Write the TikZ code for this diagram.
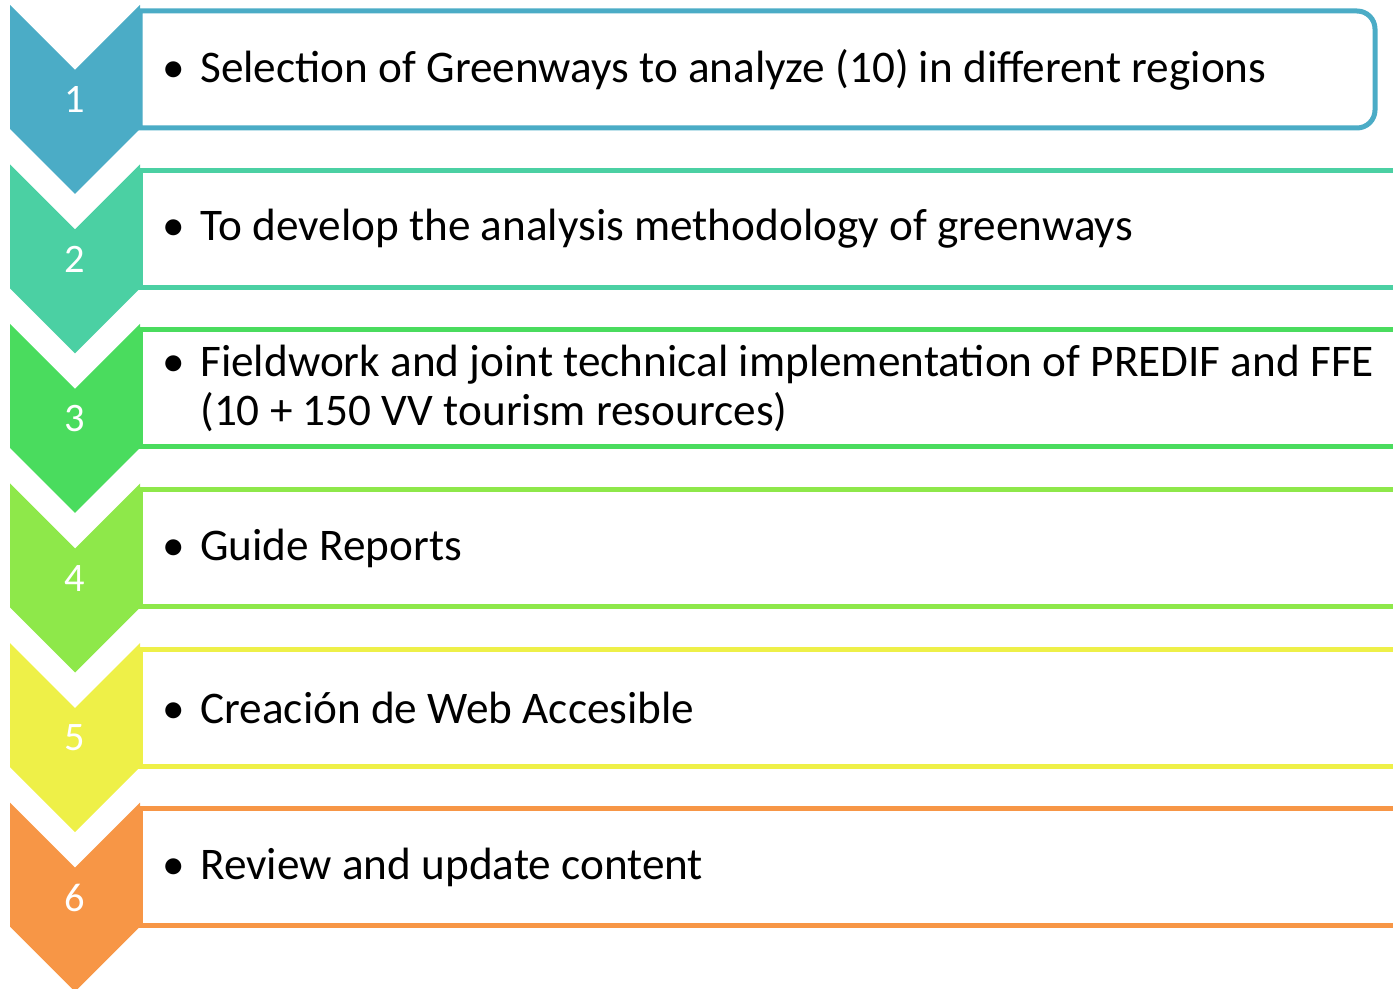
\documentclass[tikz,border=0pt]{standalone}
\usepackage{fontspec}
\setmainfont{Carlito}
\usetikzlibrary{positioning}
\definecolor{cone}{HTML}{4BACC6}
\definecolor{ctwo}{HTML}{4BD0A3}
\definecolor{cthree}{HTML}{4ADC5E}
\definecolor{cfour}{HTML}{8EE84A}
\definecolor{cfive}{HTML}{EEF048}
\definecolor{csix}{HTML}{F79646}
\tikzset{stepbox/.style = {draw=#1, line width=0.1cm, fill=white}}
\tikzset{num/.style = {text=white, inner sep=0, font=\fontsize{23}{26}\selectfont}}
\tikzset{item/.style = {anchor=west, align=left, inner sep=0,
                        font=\fontsize{25.75}{28.3}\selectfont}}
\newcommand{\bul}{\llap{\textbullet\hspace{0.3cm}}}

\begin{document}
\begin{tikzpicture}[x=0.02cm, y=-0.02cm]
    \useasboundingbox (0,0) rectangle (1393,989);
    \clip (0,0) rectangle (1393,989);

    % boxes behind the chevrons
    \draw [stepbox=cone] (140,11) -- (1357,11) arc [start angle=-90, end angle=0, radius=18]
          -- (1375,110) arc [start angle=0, end angle=90, radius=18] -- (140,128) -- cycle;
    \draw [stepbox=ctwo] (140,170.5) rectangle (1430,287.5);
    \draw [stepbox=cthree] (140,330) rectangle (1430,447);
    \draw [stepbox=cfour] (140,489.5) rectangle (1430,606.5);
    \draw [stepbox=cfive] (140,649) rectangle (1430,766);
    \draw [stepbox=csix] (140,808.5) rectangle (1430,925.5);

    % chevrons
    \fill [cone] (10,5) -- ++(65,65) -- ++(65,-65) -- ++(0,124) -- ++(-65,65) -- ++(-65,-65) -- cycle;
    \fill [ctwo] (10,164.5) -- ++(65,65) -- ++(65,-65) -- ++(0,124) -- ++(-65,65) -- ++(-65,-65) -- cycle;
    \fill [cthree] (10,324) -- ++(65,65) -- ++(65,-65) -- ++(0,124) -- ++(-65,65) -- ++(-65,-65) -- cycle;
    \fill [cfour] (10,483.5) -- ++(65,65) -- ++(65,-65) -- ++(0,124) -- ++(-65,65) -- ++(-65,-65) -- cycle;
    \fill [cfive] (10,643) -- ++(65,65) -- ++(65,-65) -- ++(0,124) -- ++(-65,65) -- ++(-65,-65) -- cycle;
    \fill [csix] (10,802.5) -- ++(65,65) -- ++(65,-65) -- ++(0,124) -- ++(-65,65) -- ++(-65,-65) -- cycle;

    \node [num] (n1) at (75,100) {1};
    \node [num] (n2) at (75,259.5) {2};
    \node [num] (n3) at (75,419) {3};
    \node [num] (n4) at (75,578.5) {4};
    \node [num] (n5) at (75,738) {5};
    \node [num] (n6) at (75,897.5) {6};

    \node [item] (s1) at (200,69.5) {\bul Selection of Greenways to analyze (10) in different regions};
    \node [item] (s2) at (200,229) {\bul To develop the analysis methodology of greenways};
    \node [item] (s3) at (200,388.5) {\bul Fieldwork and joint technical implementation of PREDIF and FFE\\
                                       (10 + 150 VV tourism resources)};
    \node [item] (s4) at (200,548) {\bul Guide Reports};
    \node [item] (s5) at (200,707.5) {\bul Creación de Web Accesible};
    \node [item] (s6) at (200,867) {\bul Review and update content};
  \end{tikzpicture}
\end{document}
